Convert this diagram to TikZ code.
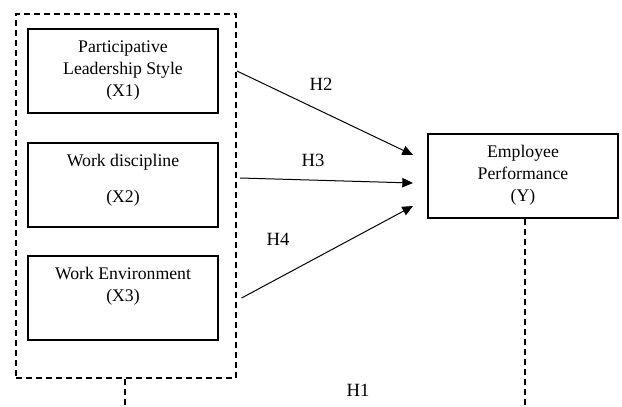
\documentclass[tikz,border=0pt]{standalone}
\usepackage{fontspec}
\setmainfont{Liberation Serif}
\usetikzlibrary{arrows.meta}

\begin{document}
\begin{tikzpicture}[x=0.75pt,y=-0.75pt,
  varbox/.style={draw,line width=1.5pt,minimum width=142.5pt,minimum height=63pt,inner sep=0pt},
  vartext/.style={align=center,anchor=north,inner sep=0pt,font=\fontsize{13.3}{16.5}\selectfont},
  grpbox/.style={draw,line width=1.4pt,dash pattern=on 4.5pt off 3pt,minimum width=165pt,minimum height=273pt,inner sep=0pt},
  hline/.style={line width=1.4pt,dash pattern=on 4.5pt off 3pt},
  hyp/.style={font=\fontsize{14}{16}\selectfont},
  effect/.style={line width=0.75pt,-{Triangle[length=8pt,width=7pt]}}]
\useasboundingbox (0,0) rectangle (622,407);

% independent variables
\node [grpbox] (grp) at (126,196) {};
\node [varbox] (x1) at (123,71) {};
\node [varbox] (x2) at (123,185) {};
\node [varbox] (x3) at (123,298) {};
\node [vartext] (x1t) at ([yshift=-9pt]x1.north) {Participative\\Leadership Style\\(X1)};
\node [vartext] (x2t) at ([yshift=-9pt]x2.north) {Work discipline\\[10.5pt](X2)};
\node [vartext] (x3t) at ([yshift=-9pt]x3.north) {Work Environment\\(X3)};

% dependent variable
\node [varbox] (y) at (523,176) {};
\node [vartext] (yt) at ([yshift=-9pt]y.north) {Employee\\Performance\\(Y)};

% hypotheses
\coordinate (s3) at (240,178);
\coordinate (e2) at (413,155);
\coordinate (e3) at (413,183);
\coordinate (e4) at (413,206);
\draw [effect] (grp.east |- x1) -- (e2);
\draw [effect] (s3) -- (e3);
\draw [effect] ([xshift=3.5pt]grp.east |- x3) -- (e4);

\node [hyp] (h2) at (321,84) {H2};
\node [hyp] (h3) at (313,160) {H3};
\node [hyp] (h4) at (278,239) {H4};
\node [hyp] (h1) at (358,390) {H1};

\coordinate (b1) at (125,407);
\coordinate (b2) at (525,407);
\draw [hline] (grp.south -| b1) -- (b1);
\draw [hline] (y.south -| b2) -- (b2);
\end{tikzpicture}
\end{document}
